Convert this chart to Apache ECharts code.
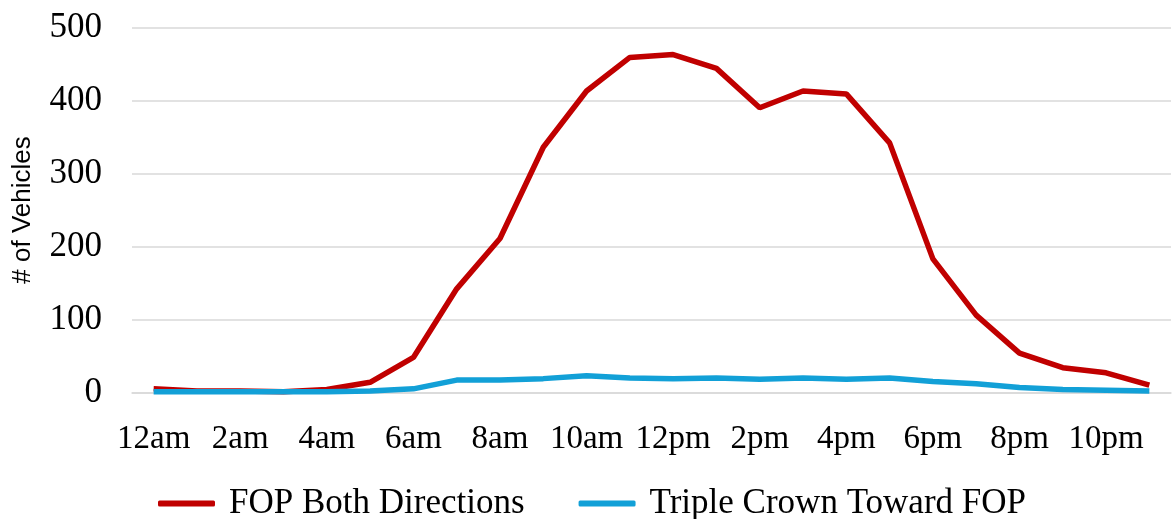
<!DOCTYPE html>
<html>
<head>
<meta charset="utf-8">
<title># of Vehicles by Hour</title>
<script src="https://cdn.jsdelivr.net/npm/echarts@6/dist/echarts.min.js"></script>
<style>
  html, body { margin: 0; padding: 0; background: #ffffff; }
  #chart { width: 1172px; height: 519px; }
</style>
</head>
<body>
<div id="chart"></div>
<script>
// Hourly categories (every other one is labelled on the axis)
const hours = ['12am', '1am', '2am', '3am', '4am', '5am', '6am', '7am', '8am', '9am', '10am', '11am',
               '12pm', '1pm', '2pm', '3pm', '4pm', '5pm', '6pm', '7pm', '8pm', '9pm', '10pm', '11pm'];

// Vehicle counts per hour
const fopBothDirections = [5, 2, 2, 1, 4, 14, 48, 142, 211, 336, 413, 459,
                           463, 444, 390, 413, 409, 342, 183, 106, 54, 34, 27, 10];
const tripleCrownTowardFop = [1, 1, 1, 1, 1, 2, 5, 17, 17, 19, 23, 20,
                              19, 20, 18, 20, 18, 20, 15, 12, 7, 4, 3, 2];

const seriesNames = ['FOP Both Directions', 'Triple Crown Toward FOP'];
const yTicks = { min: 0, max: 500, interval: 100 };

const serif = '"Liberation Serif", "DejaVu Serif", serif';

const chart = echarts.init(document.getElementById('chart'), null, { renderer: 'canvas' });

chart.setOption({
  animation: false,
  backgroundColor: '#ffffff',
  grid: {
    left: 132, right: 1, top: 27.5, bottom: 126.5,
    containLabel: false,
    outerBoundsMode: 'none'
  },
  legend: {
    data: seriesNames,
    left: 153,
    top: 481,
    icon: 'roundRect',
    itemWidth: 57,
    itemHeight: 6,
    itemGap: 54,
    textStyle: { fontFamily: serif, fontSize: 35, color: '#000000', padding: [0, 0, 0, 9] }
  },
  xAxis: {
    type: 'category',
    data: hours,
    boundaryGap: true,
    axisLine: { show: true, lineStyle: { color: '#d9d9d9', width: 1.5 } },
    axisTick: { show: false },
    axisLabel: { interval: 1, margin: 30, fontFamily: serif, fontSize: 33, color: '#000000' },
    splitLine: { show: false }
  },
  yAxis: {
    type: 'value',
    min: yTicks.min,
    max: yTicks.max,
    interval: yTicks.interval,
    name: '# of Vehicles',
    nameLocation: 'middle',
    nameGap: 96,
    nameRotate: 90,
    nameTextStyle: { fontFamily: '"Liberation Sans", "Open Sans", sans-serif', fontSize: 26, color: '#000000' },
    axisLine: { show: false },
    axisTick: { show: false },
    axisLabel: { margin: 30, fontFamily: serif, fontSize: 35, color: '#000000' },
    splitLine: { lineStyle: { color: '#d9d9d9', width: 1.5 } }
  },
  series: [
    {
      name: seriesNames[0],
      type: 'line',
      data: fopBothDirections,
      symbol: 'none',
      color: '#c00000',
      lineStyle: { color: '#c00000', width: 5.5 }
    },
    {
      name: seriesNames[1],
      type: 'line',
      data: tripleCrownTowardFop,
      symbol: 'none',
      color: '#12a0d7',
      lineStyle: { color: '#12a0d7', width: 5.5 }
    }
  ]
});
</script>
</body>
</html>
